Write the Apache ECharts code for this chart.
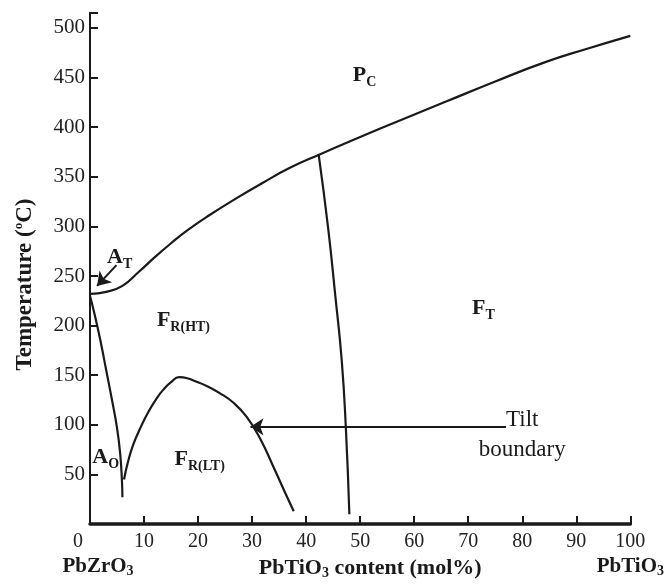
<!DOCTYPE html>
<html>
<head>
<meta charset="utf-8">
<script src="https://cdn.jsdelivr.net/npm/echarts@6/dist/echarts.min.js"></script>
<style>
  html, body { margin: 0; padding: 0; background: #fff; }
  #chart { width: 667px; height: 585px; }
</style>
</head>
<body>
<div id="chart"></div>
<script>
// PbTiO3 content (mol%) and temperature (°C)
const curieX = [0, 3, 6, 9, 12, 15, 18, 22, 27, 32, 37, 42.3, 50, 57, 66, 75, 84, 92, 100]
const curieY = [232, 234, 240, 254, 269, 283, 296, 311, 328, 344, 359, 372, 390, 406, 426, 446, 465, 479, 492]

const aoX = [0, 1, 2, 3, 4, 5, 5.6, 5.9, 6.0]
const aoY = [230, 208, 183, 155, 127, 97, 70, 45, 27]

const tiltX = [6.3, 7, 8, 9.5, 11, 12.5, 13.5, 15, 16.5, 18, 19.5, 21.5, 24, 26.5, 29, 31.5, 34, 36.5, 37.7]
const tiltY = [45, 62, 80, 99, 115, 128, 135, 143, 148, 147, 144, 139.5, 132, 122.5, 108, 86, 57, 27, 13]

const mpbX = [42.3, 44.1, 45.4, 46.6, 47.35, 48]
const mpbY = [373, 297, 230, 164, 97, 10]

const tiltArrow = [[77, 98], [29.7, 98]]
const atArrow = [[4.9, 261], [1.3, 240]]

const xTickLabels = [0, 10, 20, 30, 40, 50, 60, 70, 80, 90, 100]
const yTickLabels = [50, 100, 150, 200, 250, 300, 350, 400, 450, 500]

const regionLabels = [
  { main: "P", sub: "C", x: 50.8, y: 452 },
  { main: "A", sub: "T", x: 5.5, y: 269 },
  { main: "F", sub: "R(HT)", x: 17.3, y: 205 },
  { main: "F", sub: "T", x: 72.8, y: 217 },
  { main: "A", sub: "O", x: 2.9, y: 67 },
  { main: "F", sub: "R(LT)", x: 20.3, y: 65 }
]

const SERIF = "Liberation Serif"
const INK = "#1a1a1a"

function pairs(xs, ys) {
  return xs.map((x, i) => [x, ys[i]])
}

function curve(name, xs, ys) {
  return {
    name: name,
    type: "line",
    data: pairs(xs, ys),
    smooth: 0.5,
    showSymbol: false,
    symbol: "none",
    lineStyle: { color: INK, width: 2.2 },
    silent: true
  }
}

function arrow(pts) {
  return {
    type: "line",
    data: [],
    silent: true,
    markLine: {
      silent: true,
      symbol: ["none", "arrow"],
      symbolSize: 13,
      label: { show: false },
      itemStyle: { color: INK },
      lineStyle: { color: INK, width: 2, type: "solid" },
      data: [[{ coord: pts[0] }, { coord: pts[1] }]]
    }
  }
}

const chart = echarts.init(document.getElementById("chart"))

const option = {
  animation: false,
  backgroundColor: "#fff",
  grid: { left: 90, right: 29, top: 13, bottom: 58 },
  xAxis: [
    {
      type: "value", min: 0, max: 100, interval: 10, position: "bottom",
      axisLine: { lineStyle: { color: INK, width: 2 } },
      axisTick: { inside: true, length: 8, lineStyle: { color: INK, width: 2 } },
      splitLine: { show: false },
      axisLabel: {
        margin: 8, color: "#222", fontFamily: SERIF, fontSize: 20,
        formatter: v => {
          if (!xTickLabels.includes(v)) return ""
          return v === 0 ? "{z|0}" : String(v)
        },
        rich: { z: { fontFamily: SERIF, fontSize: 20, color: "#222", padding: [0, 24, 0, 0] } }
      },
      name: "{b|PbTiO}{s|3}{b| content (mol%)}",
      nameLocation: "middle",
      nameGap: 30,
      nameTextStyle: {
        padding: [0, 0, 0, 20],
        rich: {
          b: { fontFamily: SERIF, fontWeight: "bold", fontSize: 22, color: INK, lineHeight: 24 },
          s: { fontFamily: SERIF, fontWeight: "bold", fontSize: 14, color: INK, lineHeight: 14, verticalAlign: "bottom" }
        }
      }
    },
    {
      // top frame
      type: "value", min: 0, max: 100, position: "top",
      axisLine: { lineStyle: { color: INK, width: 3.5 } },
      axisTick: { show: false }, axisLabel: { show: false }, splitLine: { show: false }
    },
    {
      // end members under the axis
      type: "value", min: 0, max: 100, interval: 100, position: "bottom", offset: 30,
      axisLine: { show: false }, axisTick: { show: false }, splitLine: { show: false },
      axisLabel: {
        margin: 0,
        formatter: v => v === 0 ? "{l|PbZrO}{s|3}" : (v === 100 ? "{r|PbTiO}{s|3}" : ""),
        rich: {
          l: { fontFamily: SERIF, fontWeight: "bold", fontSize: 21, color: INK, lineHeight: 24, padding: [0, 0, 0, 16] },
          r: { fontFamily: SERIF, fontWeight: "bold", fontSize: 21, color: INK, lineHeight: 24 },
          s: { fontFamily: SERIF, fontWeight: "bold", fontSize: 14, color: INK, lineHeight: 14, verticalAlign: "bottom" }
        }
      }
    }
  ],
  yAxis: [
    {
      type: "value", min: 0, max: 515, interval: 50, position: "left",
      axisLine: { lineStyle: { color: INK, width: 2 } },
      axisTick: { inside: true, length: 8, lineStyle: { color: INK, width: 2 } },
      splitLine: { show: false },
      axisLabel: {
        margin: 5, color: "#222", fontFamily: SERIF, fontSize: 21,
        formatter: v => yTickLabels.includes(v) ? String(v) : ""
      },
      name: "{b|Temperature (}{o|o}{b|C)}",
      nameLocation: "middle",
      nameGap: 52,
      nameTextStyle: {
        padding: [0, 32, 0, 0],
        rich: {
          b: { fontFamily: SERIF, fontWeight: "bold", fontSize: 23, color: INK, lineHeight: 26 },
          o: { fontFamily: SERIF, fontWeight: "bold", fontSize: 13, color: INK, lineHeight: 26, verticalAlign: "top" }
        }
      }
    },
    {
      // right frame
      type: "value", min: 0, max: 515, position: "right",
      axisLine: { lineStyle: { color: INK, width: 2 } },
      axisTick: { show: false }, axisLabel: { show: false }, splitLine: { show: false }
    }
  ],
  series: [
    curve("Curie line", curieX, curieY),
    curve("AO boundary", aoX, aoY),
    curve("Tilt boundary", tiltX, tiltY),
    curve("MPB", mpbX, mpbY),
    arrow(tiltArrow),
    arrow(atArrow),
    {
      type: "scatter",
      symbolSize: 0,
      silent: true,
      itemStyle: { opacity: 1 },
      data: regionLabels.map(r => ({
        value: [r.x, r.y],
        label: { formatter: "{m|" + r.main + "}{s|" + r.sub + "}" }
      })),
      label: {
        show: true,
        position: "inside",
        color: INK,
        rich: {
          m: { fontFamily: SERIF, fontWeight: "bold", fontSize: 22, color: INK, lineHeight: 28 },
          s: { fontFamily: SERIF, fontWeight: "bold", fontSize: 14, color: INK, lineHeight: 16, verticalAlign: "bottom" }
        }
      }
    },
    {
      type: "scatter",
      symbolSize: 0,
      silent: true,
      itemStyle: { opacity: 1 },
      data: [{ value: [80, 90] }],
      label: {
        show: true,
        position: "inside",
        formatter: "Tilt\nboundary",
        fontFamily: SERIF,
        fontSize: 23,
        lineHeight: 30,
        color: INK
      }
    }
  ]
}

chart.setOption(option)
</script>
</body>
</html>
